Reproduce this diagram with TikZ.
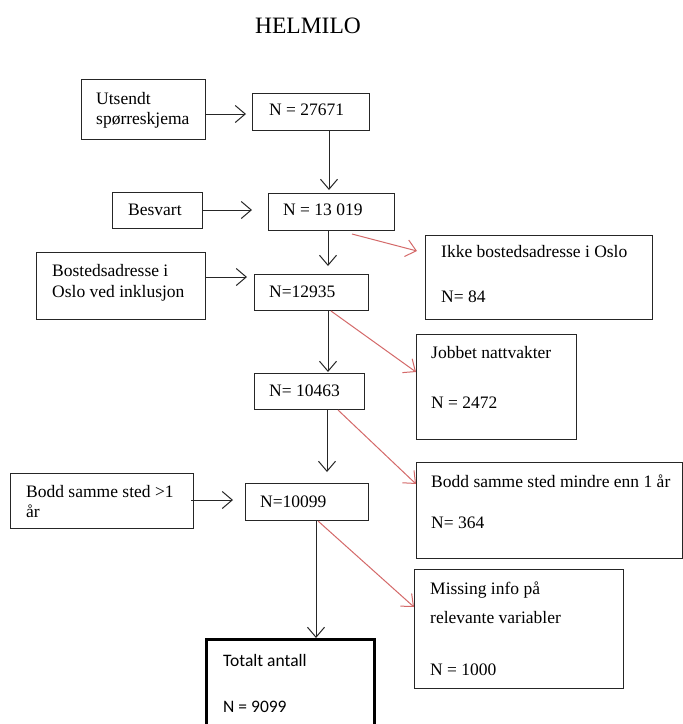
\documentclass[tikz,border=0pt]{standalone}
\usepackage{fontspec}
\setmainfont{Liberation Serif}
\newfontfamily\calibfont{Carlito}
\usetikzlibrary{arrows.meta}
\definecolor{myred}{RGB}{212,105,105}
\begin{document}
\begin{tikzpicture}[x=1pt,y=-1pt,
  box/.style={draw=black!85, line width=1pt, inner sep=0pt, anchor=north west},
  txt/.style={anchor=base west, inner sep=0pt, font=\fontsize{17.5}{20}\selectfont},
  arr/.style={draw=black!85, line width=1pt, -{Straight Barb[length=10pt,width=17pt,line width=1pt]}},
  rarr/.style={arr, draw=myred}]
\path[use as bounding box, clip] (0,0) rectangle (683,724);
\fill[white] (0,0) rectangle (683,724);

% title
\node[anchor=base, inner sep=0pt, font=\fontsize{23.5}{27}\selectfont] (title) at (308,33) {HELMILO};

% boxes
\node[box, minimum width=124pt, minimum height=60pt] (uts) at (81,79) {};
\node[box, minimum width=117pt, minimum height=37pt] (n1) at (252,93) {};
\node[box, minimum width=90pt, minimum height=36pt] (bes) at (112,192) {};
\node[box, minimum width=126pt, minimum height=37pt] (n2) at (268,193) {};
\node[box, minimum width=227pt, minimum height=84pt] (ikke) at (425,235) {};
\node[box, minimum width=169pt, minimum height=67pt] (bos) at (36,252) {};
\node[box, minimum width=114pt, minimum height=36pt] (n3) at (254,274) {};
\node[box, minimum width=160pt, minimum height=105pt] (job) at (416,334) {};
\node[box, minimum width=110pt, minimum height=36pt] (n4) at (254,373) {};
\node[box, minimum width=183pt, minimum height=55pt] (bodd1) at (10,473) {};
\node[box, minimum width=123pt, minimum height=37pt] (n5) at (245,483) {};
\node[box, minimum width=266pt, minimum height=96pt] (bodd2) at (416,462) {};
\node[box, minimum width=209pt, minimum height=119pt] (miss) at (414,569) {};
\node[box, draw=black, line width=3pt, minimum width=168pt, minimum height=110pt] (tot) at (205,638) {};

% texts
\node[txt] (t-uts1) at (96,104) {Utsendt};
\node[txt] (t-uts2) at (96,124) {spørreskjema};
\node[txt] (t-n1) at (269,115) {N = 27671};
\node[txt] (t-bes) at (128,215) {Besvart};
\node[txt] (t-n2) at (283,215) {N = 13 019};
\node[txt] (t-ikke1) at (441,257) {Ikke bostedsadresse i Oslo};
\node[txt] (t-ikke2) at (441,302) {N= 84};
\node[txt] (t-bos1) at (52,276) {Bostedsadresse i};
\node[txt] (t-bos2) at (52,297) {Oslo ved inklusjon};
\node[txt] (t-n3) at (269,297) {N=12935};
\node[txt] (t-job1) at (431,358) {Jobbet nattvakter};
\node[txt] (t-job2) at (431,408) {N = 2472};
\node[txt] (t-n4) at (269,396) {N= 10463};
\node[txt] (t-bodd21) at (431,487) {Bodd samme sted mindre enn 1 år};
\node[txt] (t-bodd22) at (431,528) {N= 364};
\node[txt] (t-bodd11) at (26,497) {Bodd samme sted >1};
\node[txt] (t-bodd12) at (26,517) {år};
\node[txt] (t-n5) at (260,507) {N=10099};
\node[txt] (t-miss1) at (430,594) {Missing info på};
\node[txt] (t-miss2) at (430,623) {relevante variabler};
\node[txt] (t-miss3) at (430,675) {N = 1000};
\node[txt, font=\calibfont\fontsize{17.5}{20}\selectfont] (t-tot1) at (223,666) {Totalt antall};
\node[txt, font=\calibfont\fontsize{17.5}{20}\selectfont] (t-tot2) at (223,712) {N = 9099};

% black connectors
\draw[arr] (uts.east |- 0,114) -- ([xshift=-6pt]n1.west |- 0,114);
\draw[arr] (n1.south -| 329,0) -- ([yshift=3pt]n2.north -| 329,0);
\draw[arr] (bes.east |- 0,210) -- ([xshift=-16pt]n2.west |- 0,210);
\draw[arr] (n2.south -| 328,0) -- ([yshift=8pt]n3.north -| 328,0);
\draw[arr] (bos.east |- 0,277) -- ([xshift=-7pt]n3.west |- 0,277);
\draw[arr] (n3.south -| 328,0) -- ([yshift=1pt]n4.north -| 328,0);
\draw[arr] (n4.south -| 327,0) -- ([yshift=11pt]n5.north -| 327,0);
\draw[arr] ([xshift=-3pt]bodd1.east |- 0,500) -- ([xshift=-12pt]n5.west |- 0,500);
\draw[arr] (n5.south -| 316,0) -- (tot.north -| 316,0);

% red connectors
\draw[rarr] (n2.south -| 352,0) ++(0,3) -- ([xshift=-8pt]ikke.west |- 0,251);
\draw[rarr] (n3.south -| 331,0) -- (job.west |- 0,372);
\draw[rarr] (n4.south -| 338,0) -- (bodd2.west |- 0,484);
\draw[rarr] (n5.south -| 318,0) -- (miss.west |- 0,607);
\end{tikzpicture}
\end{document}
